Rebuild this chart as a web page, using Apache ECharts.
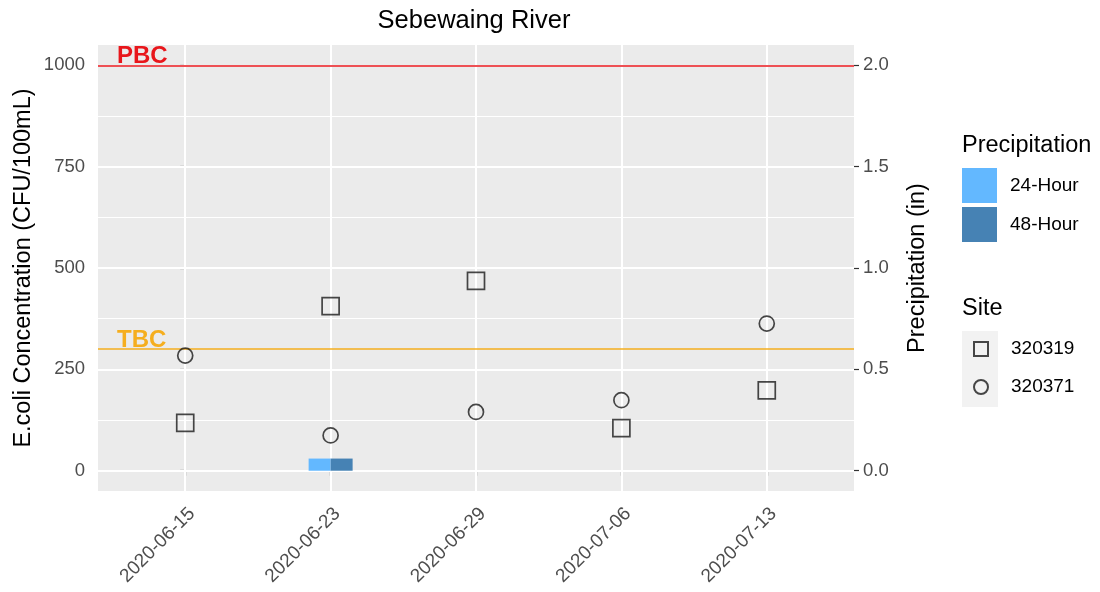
<!DOCTYPE html>
<html>
<head>
<meta charset="utf-8">
<script src="https://cdn.jsdelivr.net/npm/echarts@6/dist/echarts.min.js"></script>
<style>
html,body{margin:0;padding:0;background:#fff;}
#chart{width:1100px;height:592px;}
</style>
</head>
<body>
<div id="chart"></div>
<script>
// ---- data ----
var dates = ['2020-06-15', '2020-06-23', '2020-06-29', '2020-07-06', '2020-07-13'];
var site320319 = [118, 406, 468, 105, 198];
var site320371 = [284, 87, 145, 174, 363];
var precip24 = [0, 0.06, 0, 0, 0];
var precip48 = [0, 0.06, 0, 0, 0];
var ecoliTicks = [0, 250, 500, 750, 1000];
var ecoliMinor = [125, 375, 625, 875];
var precipTicks = [0, 0.5, 1.0, 1.5, 2.0];
var PBC = 1000;
var TBC = 300;

var FONT = '"Liberation Sans", Arial, sans-serif';
var idx = dates.map(function (d, i) { return i; });
function pairs(vals) { return vals.map(function (v, i) { return [i, v]; }); }

var chart = echarts.init(document.getElementById('chart'), null, {renderer: 'canvas'});

var gridLines = [];
ecoliTicks.forEach(function (v) { gridLines.push({yAxis: v, lineStyle: {width: 2}}); });
ecoliMinor.forEach(function (v) { gridLines.push({yAxis: v, lineStyle: {width: 1.1}}); });
idx.forEach(function (v) { gridLines.push({xAxis: v, lineStyle: {width: 2}}); });

var hollow = {color: 'rgba(0,0,0,0)', borderColor: '#1a1a1a', borderWidth: 1.7};

var option = {
  animation: false,
  textStyle: {fontFamily: FONT},
  grid: {left: 98, right: 246, top: 45, bottom: 101, show: true, backgroundColor: '#EBEBEB', borderWidth: 0,
         containLabel: false, outerBoundsMode: 'none'},
  xAxis: {
    type: 'value', min: -0.6, max: 4.6,
    axisLine: {show: false},
    splitLine: {show: false},
    axisTick: {show: true, customValues: idx, length: 5, lineStyle: {color: '#333', width: 1.2}},
    axisLabel: {
      customValues: idx, rotate: 45, margin: 13, fontSize: 19, color: '#4D4D4D', fontFamily: FONT,
      verticalAlign: 'top',
      formatter: function (v) { return dates[Math.round(v)]; }
    }
  },
  yAxis: [{
    type: 'value', min: -50, max: 1050,
    name: 'E.coli Concentration (CFU/100mL)', nameLocation: 'middle', nameRotate: 90, nameGap: 62,
    nameMoveOverlap: false,
    nameTextStyle: {fontSize: 23.5, color: '#000', fontFamily: FONT},
    axisLine: {show: false}, splitLine: {show: false},
    axisTick: {show: true, customValues: ecoliTicks, length: 5, lineStyle: {color: '#333', width: 1.2}},
    axisLabel: {customValues: ecoliTicks, margin: 13, fontSize: 18.5, color: '#4D4D4D', fontFamily: FONT,
      formatter: function (v) { return String(v); }}
  }, {
    type: 'value', min: -0.1, max: 2.1, position: 'right',
    name: 'Precipitation (in)', nameLocation: 'middle', nameRotate: 90, nameGap: 52,
    nameMoveOverlap: false,
    nameTextStyle: {fontSize: 23.5, color: '#000', fontFamily: FONT},
    axisLine: {show: false}, splitLine: {show: false},
    axisTick: {show: true, customValues: precipTicks, length: 5, lineStyle: {color: '#333', width: 1.2}},
    axisLabel: {customValues: precipTicks, margin: 9, fontSize: 18.5, color: '#4D4D4D', fontFamily: FONT,
      formatter: function (v) { return v.toFixed(1); }}
  }],
  legend: [{
    orient: 'vertical', left: 962, top: 168, padding: 0, itemWidth: 35, itemHeight: 35, itemGap: 4,
    icon: 'rect', data: ['24-Hour', '48-Hour'], selectedMode: false,
    textStyle: {fontSize: 19, color: '#000', fontFamily: FONT, padding: [0, 0, 0, 8]}
  }, {
    orient: 'vertical', left: 973, top: 339.5, padding: 0, itemWidth: 14, itemHeight: 14, itemGap: 19,
    data: ['320319', '320371'], selectedMode: false,
    textStyle: {fontSize: 19, color: '#000', fontFamily: FONT, padding: [0, 0, 0, 18]}
  }],
  graphic: [
    {type: 'text', style: {text: 'Sebewaing River', x: 474, y: 21, align: 'center', verticalAlign: 'middle', font: '25.5px ' + FONT, fill: '#000'}},
    {type: 'text', style: {text: 'Precipitation', x: 962, y: 146, align: 'left', verticalAlign: 'middle', font: '23.5px ' + FONT, fill: '#000'}},
    {type: 'text', style: {text: 'Site', x: 962, y: 309, align: 'left', verticalAlign: 'middle', font: '23.5px ' + FONT, fill: '#000'}},
    {type: 'rect', z: -1, shape: {x: 962, y: 331, width: 36, height: 76}, style: {fill: '#F2F2F2'}}
  ],
  series: [{
    name: 'gridlines', type: 'scatter', data: [], silent: true, z: 1,
    markLine: {silent: true, z: 1, symbol: 'none', label: {show: false}, lineStyle: {color: '#fff', type: 'solid'}, data: gridLines}
  }, {
    name: 'thresholds', type: 'scatter', data: [], silent: true, z: 2,
    markLine: {
      silent: true, z: 2, symbol: 'none',
      data: [
        {yAxis: PBC, lineStyle: {color: '#E8161B', width: 1.5, type: 'solid'},
         label: {show: true, formatter: 'PBC', position: 'insideStartTop', distance: [19, -3], color: '#E8161B', fontWeight: 'bold', fontSize: 24, fontFamily: FONT}},
        {yAxis: TBC, lineStyle: {color: '#F5AE1E', width: 1.5, type: 'solid'},
         label: {show: true, formatter: 'TBC', position: 'insideStartTop', distance: [19, -3], color: '#F5AE1E', fontWeight: 'bold', fontSize: 24, fontFamily: FONT}}
      ]
    }
  }, {
    name: '24-Hour', type: 'bar', yAxisIndex: 1, data: pairs(precip24), barWidth: 22, barGap: '0%', z: 3,
    itemStyle: {color: '#63B8FF'}
  }, {
    name: '48-Hour', type: 'bar', yAxisIndex: 1, data: pairs(precip48), barWidth: 22, barGap: '0%', z: 3,
    itemStyle: {color: '#4682B4'}
  }, {
    name: '320319', type: 'scatter', symbol: 'rect', symbolSize: 17, data: pairs(site320319), z: 4,
    itemStyle: hollow
  }, {
    name: '320371', type: 'scatter', symbol: 'circle', symbolSize: 15, data: pairs(site320371), z: 4,
    itemStyle: hollow
  }]
};
chart.setOption(option);
</script>
</body>
</html>
